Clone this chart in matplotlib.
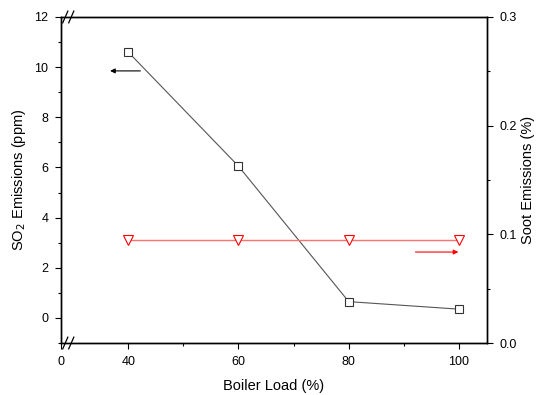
import matplotlib
matplotlib.use("Agg")
import matplotlib.pyplot as plt
from matplotlib.ticker import MultipleLocator

plt.rcParams["font.family"] = ["Liberation Sans", "DejaVu Sans"]

# dados
load = [40, 60, 80, 100]
so2 = [10.6, 6.05, 0.65, 0.35]
soot = [0.095, 0.095, 0.095, 0.095]

x_ticks = [27.8, 40, 60, 80, 100]
x_labels = ["0", "40", "60", "80", "100"]

fig = plt.figure(figsize=(5.41, 3.95), dpi=100)
ax = fig.add_axes([0.1128, 0.1316, 0.7875, 0.8254])
ax2 = ax.twinx()

ax.plot(load, so2, color="#555555", lw=0.8, marker="s", ms=5.5,
        mfc="white", mec="#333333", mew=0.8, zorder=3)
ax2.plot(load, soot, color="#ff7070", lw=1.0, marker="v", ms=7,
         mfc="white", mec="red", mew=0.8, zorder=3)

ax.set_xlim(27.8, 105.1)
ax.set_ylim(-1, 12)
ax2.set_ylim(0, 0.3)

ax.set_xticks(x_ticks)
ax.set_xticklabels(x_labels)
ax.set_xticks([50, 70, 90], minor=True)
ax.yaxis.set_major_locator(MultipleLocator(2))
ax.yaxis.set_minor_locator(MultipleLocator(1))
ax2.yaxis.set_major_locator(MultipleLocator(0.1))
ax2.yaxis.set_minor_locator(MultipleLocator(0.05))

for a in (ax, ax2):
    a.tick_params(which="major", direction="out", length=4, width=0.8,
                  labelsize=9, pad=5)
    a.tick_params(which="minor", direction="out", length=2.5, width=0.8)
    for s in a.spines.values():
        s.set_linewidth(1.0)

ax.set_xlabel("Boiler Load (%)", fontsize=10.5, labelpad=8)
ax.set_ylabel("SO$_2$ Emissions (ppm)", fontsize=10.5, labelpad=5)
ax2.set_ylabel("Soot Emissions (%)", fontsize=10.5, labelpad=3)

# setas indicando o eixo de cada curva
ax.annotate("", xy=(36.2, 9.85), xytext=(42.7, 9.85),
            arrowprops=dict(arrowstyle="-|>", color="black", lw=0.8,
                            mutation_scale=7))
ax2.annotate("", xy=(100.4, 0.0837), xytext=(91.6, 0.0837),
             arrowprops=dict(arrowstyle="-|>", color="red", lw=0.8,
                             mutation_scale=7))

# marcas de quebra de eixo
kw = dict(transform=ax.transAxes, color="black", lw=0.9, clip_on=False)
for dx in (0.004, 0.018):
    ax.plot([dx, dx + 0.012], [-0.018, 0.018], **kw)
    ax.plot([dx, dx + 0.012], [0.982, 1.018], **kw)

fig.savefig("out.png", dpi=100)
